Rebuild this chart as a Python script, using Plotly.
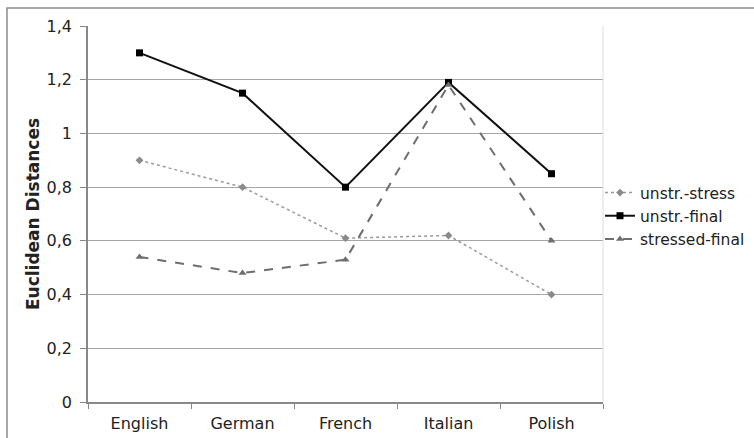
import plotly.graph_objects as go

# Euclidean distances per language, three contrasts
languages = ["English", "German", "French", "Italian", "Polish"]
unstr_stress = [0.90, 0.80, 0.61, 0.62, 0.40]
unstr_final = [1.30, 1.15, 0.80, 1.19, 0.85]
stressed_final = [0.54, 0.48, 0.53, 1.18, 0.60]

W, H = 754, 438
L, R, T, B = 88, 151, 26, 36
PW, PH = W - L - R, H - T - B


def px_x(p):
    return (p - L) / PW


def px_y(p):
    return (H - B - p) / PH


FAMILY = "DejaVu Sans, Verdana, sans-serif"
font = dict(family=FAMILY, size=16, color="#222222")

fig = go.Figure()
fig.add_trace(go.Scatter(
    x=languages, y=unstr_stress, name="unstr.-stress", mode="lines+markers",
    line=dict(color="#9a9a9a", width=1.5, dash="dot"),
    marker=dict(symbol="diamond", size=6, color="#8a8a8a"),
))
fig.add_trace(go.Scatter(
    x=languages, y=unstr_final, name="unstr.-final", mode="lines+markers",
    line=dict(color="#111111", width=2),
    marker=dict(symbol="square", size=7, color="#000000"),
))
fig.add_trace(go.Scatter(
    x=languages, y=stressed_final, name="stressed-final", mode="lines+markers",
    line=dict(color="#6e6e6e", width=2, dash="dash"),
    marker=dict(symbol="triangle-up", size=7, color="#6e6e6e"),
))

shapes = [
    # outer chart frame
    dict(type="rect", xref="paper", yref="paper",
         x0=px_x(7), x1=px_x(770), y0=px_y(450), y1=px_y(8),
         line=dict(color="#8c8c8c", width=1.5), fillcolor="rgba(0,0,0,0)", layer="below"),
    # faint right edge of plot area
    dict(type="line", xref="paper", yref="paper",
         x0=1, x1=1, y0=0, y1=1, line=dict(color="#dddddd", width=1)),
]

fig.update_layout(
    width=W, height=H,
    margin=dict(l=L, r=R, t=T, b=B, autoexpand=False),
    paper_bgcolor="white", plot_bgcolor="white",
    separators=", ",
    font=font,
    shapes=shapes,
    showlegend=True,
    legend=dict(
        x=px_x(600), y=px_y(176), xanchor="left", yanchor="top",
        font=dict(family=FAMILY, size=15.5, color="#222222"),
        bgcolor="rgba(0,0,0,0)", itemwidth=30, tracegroupgap=0,
    ),
    xaxis=dict(
        showgrid=False, showline=True, linecolor="#888888", linewidth=1.5,
        ticks="outside", tickson="boundaries", ticklen=5, tickcolor="#888888",
        tickfont=font, range=[-0.5, 4.5], ticklabelstandoff=6, automargin=False,
    ),
    yaxis=dict(
        range=[0, 1.4], dtick=0.2, tick0=0,
        showgrid=True, gridcolor="#a6a6a6", gridwidth=1,
        showline=True, linecolor="#888888", linewidth=1.5,
        ticks="outside", ticklen=6, tickcolor="#888888",
        tickfont=font, zeroline=False, ticklabelstandoff=5, automargin=False,
        title=dict(text="<b>Euclidean Distances</b>",
                   font=dict(family=FAMILY, size=17, color="#222222"),
                   standoff=3),
    ),
)

fig.write_html("out.html")
